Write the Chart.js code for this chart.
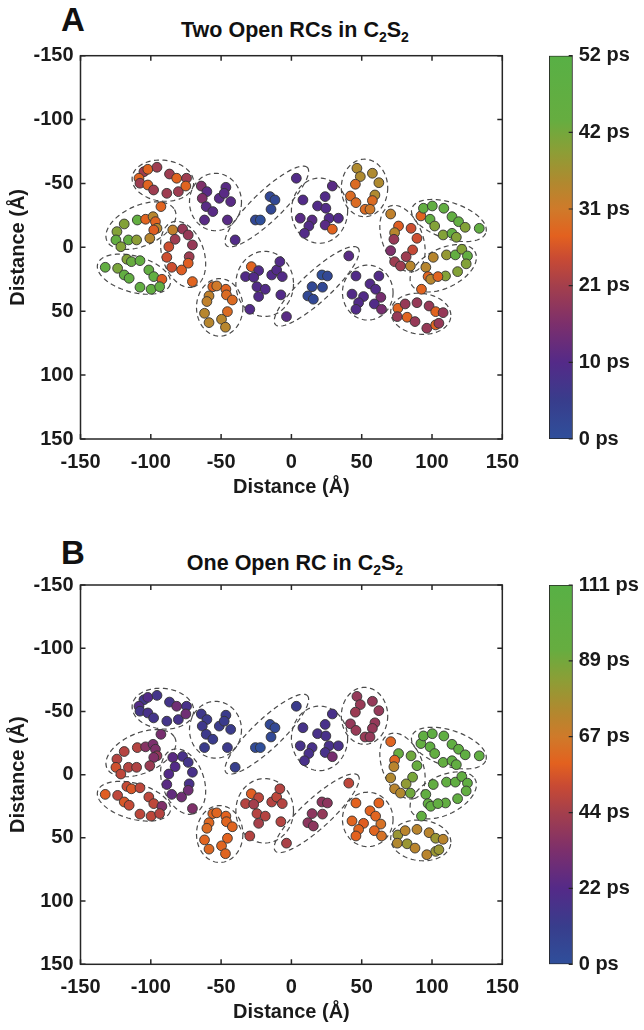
<!DOCTYPE html>
<html>
<head>
<meta charset="utf-8">
<title>Excitation transfer in C2S2</title>
<script src="https://cdn.jsdelivr.net/npm/chart.js@4.4.1/dist/chart.umd.min.js"></script>
<style>
  body { margin: 0; background: #fff; font-family: "Liberation Sans", Arial, sans-serif; }
  #fig { position: relative; width: 644px; height: 1030px; overflow: hidden; }
  #fig canvas { position: absolute; }
  .letter { position: absolute; left: 61px; font-weight: bold; font-size: 33px; line-height: 33px; color: #111; }
  .title { position: absolute; left: 80px; width: 430px; text-align: center; font-weight: bold;
           font-size: 21.5px; line-height: 20px; color: #111; }
  .title sub { font-size: 14px; line-height: 0; vertical-align: -5px; }
</style>
</head>
<body>
<div id="fig">
  <div class="letter" style="top:3px">A</div>
  <div class="title" style="top:20px">Two Open RCs in C<sub>2</sub>S<sub>2</sub></div>
  <canvas id="plotA" style="left:0;top:0" width="530" height="500"></canvas>
  <canvas id="barA" style="left:530px;top:0" width="114" height="500"></canvas>

  <div class="letter" style="top:536px">B</div>
  <div class="title" style="top:553px">One Open RC in C<sub>2</sub>S<sub>2</sub></div>
  <canvas id="plotB" style="left:0;top:527px" width="530" height="500"></canvas>
  <canvas id="barB" style="left:530px;top:527px" width="114" height="500"></canvas>
</div>
<script>
// pigment positions (Å), same for both panels, grouped by complex
const distX = [
  // top-left
  -104.9, -102.1, -95.6, -86.7, -81.6, -74.6, -108.4, -107.7, -102.1, -98.0, -88.6, -80.4, -75.1,
  -64.1, -60.1, -63.4, -60.6, -55.9, -61.8, -51.3, -46.6, -47.8, -43.2, -45.5,
  -15.2, -11.7, -14.5, -25.6, -22.1, -40.0, 3.5,
  -92.8, -109.6, -103.7, -98.4, -96.7, -95.6, -97.9, -118.9, -124.1, -124.8, -121.3, -115.9, -110.1, -100.7,
  -84.4, -77.4, -73.4, -82.7, -70.4, -87.2, -72.7, -88.6, -85.1, -78.1, -73.4, -70.4,
  -132.4, -123.6, -117.0, -113.8, -107.7, -118.9, -115.4, -101.4, -97.9, -92.1, -107.7, -99.8, -93.7,
  -55.9, -53.1, -46.6, -58.6, -46.2, -42.0, -60.1, -61.8, -45.5, -58.6, -49.7, -46.9,
  -28.5, -23.3, -32.6, -26.8, -14.0, -10.5, -8.2, -6.5, -24.5, -23.3, -18.6, -7.5, -29.6,
  // right side
  40.8, 21.7, 25.6, 14.7, 22.1, 11.7, 15.6, -3.5,
  29.1, 24.0, 8.2, 18.6, 24.5, 6.3, 14.7, 12.4, 9.3, 26.8, 33.4, 24.0, 29.1,
  46.6, 49.0, 57.6, 62.2, 45.5, 42.0, 59.4, 45.9, 57.6, 52.4, 55.9,
  45.9, 62.2, 55.9, 59.9, 43.1, 51.3, 63.6, 47.8, 59.0, 45.9, 64.1,
  70.6, 76.2, 73.4, 72.9, 85.1, 89.3, 70.6, 86.2, 81.6, 73.4, 77.6, 84.6,
  92.1, 93.9, 100.2, 108.4, 98.6, 101.9, 114.2, 118.9, 123.6, 107.9, 114.2, 117.3, 133.6,
  100.9, 110.3, 116.6, 121.2, 125.2, 124.3, 95.6, 109.6, 118.2, 97.2, 99.1, 104.2, 92.5,
  75.7, 80.9, 89.3, 97.9, 102.6, 107.9, 75.3, 82.3, 87.9, 96.3, 102.6, 104.9
];
const distY = [
  -59.2, -61.1, -62.7, -57.4, -54.1, -54.1, -54.1, -50.2, -48.8, -44.9, -42.3, -43.6, -48.0,
  -48.0, -43.6, -38.4, -31.9, -28.0, -21.4, -38.4, -47.0, -42.3, -35.8, -21.4,
  -39.7, -37.1, -29.8, -21.4, -21.4, -5.8, -54.1,
  -31.9, -21.4, -22.0, -24.0, -20.1, -14.9, -13.6, -18.3, -12.3, -5.8, -0.5, -5.8, -5.8, -7.1,
  -13.6, -14.4, -9.7, -6.3, -1.9, -0.5, 7.3, 7.8, 15.6, 17.7, 12.4, 26.8,
  15.6, 16.4, 9.3, 11.2, 10.4, 21.6, 24.2, 17.7, 22.9, 25.0, 31.2, 32.8, 30.8,
  30.8, 30.2, 32.8, 38.0, 37.2, 41.2, 42.4, 51.6, 50.3, 58.9, 56.3, 62.5,
  15.1, 18.2, 22.9, 23.4, 21.6, 17.7, 11.2, 22.9, 30.8, 38.5, 32.8, 37.2, 48.5,
  6.7, 21.6, 22.4, 30.8, 31.2, 38.0, 40.6, 54.2,
  -48.0, -39.7, -37.1, -32.4, -30.6, -22.8, -21.4, -16.7, -11.0, -22.8, -22.8, -17.5, -14.2,
  -61.9, -55.4, -58.0, -50.6, -49.4, -40.2, -41.0, -35.0, -36.6, -29.8, -29.8,
  22.4, 22.4, 28.6, 32.8, 36.6, 38.5, 39.1, 43.3, 44.3, 48.5, 48.5,
  -26.1, -16.7, -11.5, -6.3, -14.9, -7.1, 2.6, 2.0, 7.3, 11.2, 14.6, 14.6,
  -24.6, -30.6, -32.4, -30.6, -22.0, -16.7, -24.0, -20.1, -15.7, -9.7, -11.0, -7.9, -14.9,
  7.8, 5.9, 5.9, 1.5, 6.7, 12.9, 15.6, 22.4, 19.0, 22.9, 25.0, 22.9, 32.8,
  47.7, 44.3, 43.3, 45.9, 50.3, 51.1, 54.2, 54.7, 58.1, 63.3, 60.7, 59.4
];

// arrival time of the excitation (ps)
const timeA = [
  20, 28, 20, 20, 28, 20, 28, 20, 28, 20, 20, 20, 28,
  16, 11, 16, 11, 11, 11, 11, 11, 11, 11, 11,
  2, 2, 2, 2, 0, 10, 10,
  28, 45, 28, 34, 28, 34, 27, 40, 40, 45, 40, 45, 39, 34,
  33, 19, 19, 20, 19, 25, 20, 25, 25, 27, 27, 28,
  46, 41, 40, 43, 46, 46, 46, 46, 46, 27, 46, 46, 46,
  28, 31, 28, 33, 29, 29, 33, 34, 29, 34, 34, 34,
  28, 10, 10, 10, 10, 10, 10, 10, 10, 10, 10, 10, 10,
  11, 0, 2, 2, 2, 2, 2, 11,
  11, 10, 10, 10, 10, 11, 11, 10, 10, 10, 10, 11, 28,
  35, 35, 35, 35, 29, 29, 35, 29, 29, 29, 31,
  10, 10, 10, 10, 10, 10, 15, 10, 10, 10, 15,
  33, 27, 34, 19, 25, 25, 16, 24, 20, 20, 20, 34,
  28, 46, 46, 46, 46, 40, 46, 46, 40, 40, 46, 40, 46,
  34, 38, 46, 40, 46, 40, 34, 40, 40, 28, 34, 28, 28,
  28, 19, 19, 19, 28, 19, 19, 28, 19, 19, 28, 19
];
const timeB = [
  16, 22, 16, 16, 30, 18, 22, 16, 18, 16, 16, 17, 30,
  14, 13, 14, 13, 12, 12, 12, 12, 12, 12, 13,
  4, 4, 4, 3, 0, 10, 12,
  32, 48, 36, 33, 34, 40, 35, 48, 48, 54, 50, 48, 47, 42,
  24, 18, 16, 22, 18, 22, 18, 24, 26, 30, 30, 34,
  58, 50, 52, 56, 50, 56, 52, 50, 50, 34, 50, 50, 48,
  60, 60, 59, 61, 60, 60, 62, 60, 59, 61, 60, 60,
  58, 50, 48, 44, 48, 50, 48, 48, 48, 45, 48, 48, 48,
  50, 38, 38, 38, 40, 38, 38, 46,
  18, 18, 17, 18, 18, 17, 18, 18, 18, 18, 18, 18, 32,
  40, 41, 40, 40, 42, 40, 40, 41, 40, 41, 40,
  59, 59, 59, 60, 60, 58, 64, 60, 60, 59, 64,
  60, 92, 60, 72, 90, 92, 74, 88, 82, 72, 74, 90,
  96, 100, 100, 100, 100, 96, 100, 100, 100, 96, 100, 98, 100,
  98, 98, 100, 98, 100, 98, 98, 98, 98, 98, 98, 98, 98,
  80, 72, 72, 72, 80, 72, 74, 80, 72, 72, 80, 80
];

// complex outlines: centre x, centre y, half length, half width, angle (deg)
const complexes = [
  [-91.4, -52.2, 22, 16, 8],
  [-107, -17, 27, 15.5, -28],
  [-112, 21, 27, 14, 18],
  [-77, 5.5, 26.5, 15, 75],
  [-54, -35.5, 18.5, 22.5, 0],
  [-17.5, -32, 42, 11, -47],
  [-51, 47, 16.5, 22.5, 0],
  [-19, 28.6, 20.5, 25.5, 0],
  [18, 30.5, 42, 11, -46],
  [20, -28.7, 20, 25.5, 0],
  [52, -46.5, 16.5, 22.5, 0],
  [54.3, 35.4, 18, 21.5, 0],
  [79, -6.8, 27, 14.5, 72],
  [112, -21, 28, 14, 21],
  [108, 16.4, 26, 15, -31],
  [92, 52, 21.5, 16, 8]
];

const axisTicks = [-150, -100, -50, 0, 50, 100, 150];
const tMaxA = 52;
const tMaxB = 111;
const barTicksA = [0, 10.4, 20.8, 31.2, 41.6, 52];
const barTicksB = [0, 22.2, 44.4, 66.6, 88.8, 111];

// colour map, blue -> purple -> red -> orange -> green
const cmap = [
  [0.0, "#2f4f9b"],
  [0.1, "#383d8c"],
  [0.2, "#542a88"],
  [0.3, "#7c2f6c"],
  [0.4, "#a43f4c"],
  [0.47, "#c84a34"],
  [0.53, "#e3611f"],
  [0.6, "#cf7a2a"],
  [0.67, "#b0892f"],
  [0.75, "#8c9e36"],
  [0.83, "#66ad40"],
  [1.0, "#58b045"]
];

function hexRgb(h) {
  return [1, 3, 5].map((i) => parseInt(h.slice(i, i + 2), 16));
}

function colorAt(f) {
  f = Math.max(0, Math.min(1, f));
  for (let i = 1; i < cmap.length; i++) {
    if (f <= cmap[i][0]) {
      const [f0, c0] = cmap[i - 1];
      const [f1, c1] = cmap[i];
      const t = (f - f0) / (f1 - f0);
      const a = hexRgb(c0);
      const b = hexRgb(c1);
      const rgb = a.map((v, k) => Math.round(v + (b[k] - v) * t));
      return `rgb(${rgb.join(",")})`;
    }
  }
  return cmap[cmap.length - 1][1];
}

const font = { family: '"Liberation Sans", Arial, sans-serif', size: 20, weight: "bold" };
const ink = "#1a1a1a";

// dashed outlines + box frame + inward ticks (MATLAB style)
const framePlugin = {
  id: "frame",
  beforeDatasetsDraw(chart) {
    const c = chart.ctx;
    const xs = chart.scales.x;
    const ys = chart.scales.y;
    c.save();
    c.strokeStyle = "#4a4a4a";
    c.lineWidth = 1.2;
    c.setLineDash([5, 3.5]);
    complexes.forEach(([cx, cy, a, b, ang]) => {
      const r = (ang * Math.PI) / 180;
      c.beginPath();
      for (let k = 0; k <= 96; k++) {
        const t = (k / 96) * Math.PI * 2;
        const dx = a * Math.cos(t);
        const dy = b * Math.sin(t);
        const px = xs.getPixelForValue(cx + dx * Math.cos(r) - dy * Math.sin(r));
        const py = ys.getPixelForValue(cy + dx * Math.sin(r) + dy * Math.cos(r));
        if (k === 0) c.moveTo(px, py);
        else c.lineTo(px, py);
      }
      c.closePath();
      c.stroke();
    });
    c.restore();
  },
  afterDraw(chart) {
    const c = chart.ctx;
    const { left, right, top, bottom } = chart.chartArea;
    c.save();
    c.strokeStyle = "#262626";
    c.lineWidth = 1.5;
    c.setLineDash([]);
    c.strokeRect(left, top, right - left, bottom - top);
    c.beginPath();
    axisTicks.forEach((v) => {
      const px = chart.scales.x.getPixelForValue(v);
      c.moveTo(px, bottom);
      c.lineTo(px, bottom - 5);
      c.moveTo(px, top);
      c.lineTo(px, top + 5);
      const py = chart.scales.y.getPixelForValue(v);
      c.moveTo(left, py);
      c.lineTo(left + 5, py);
      c.moveTo(right, py);
      c.lineTo(right - 5, py);
    });
    c.stroke();
    c.restore();
  }
};

const barTickPlugin = {
  id: "barTicks",
  afterDraw(chart) {
    const c = chart.ctx;
    const { right } = chart.chartArea;
    c.save();
    c.strokeStyle = "#262626";
    c.lineWidth = 1.2;
    c.beginPath();
    chart.scales.y.ticks.forEach((t) => {
      const py = chart.scales.y.getPixelForValue(t.value);
      c.moveTo(right, py);
      c.lineTo(right - 4, py);
    });
    c.stroke();
    c.restore();
  }
};

const panels = [
  { plot: "plotA", bar: "barA", times: timeA, tMax: tMaxA, ticks: barTicksA, top: 55.7, bottom: 439 },
  { plot: "plotB", bar: "barB", times: timeB, tMax: tMaxB, ticks: barTicksB, top: 58, bottom: 437.3 }
];

panels.forEach((p) => {
  new Chart(document.getElementById(p.plot), {
    type: "scatter",
    data: {
      datasets: [
        {
          data: distX.map((x, i) => ({ x: x, y: distY[i] })),
          pointRadius: 4.9,
          pointHoverRadius: 4.9,
          pointBorderWidth: 0.9,
          pointBorderColor: "#333",
          pointBackgroundColor: (ctx) => colorAt(p.times[ctx.dataIndex] / p.tMax)
        }
      ]
    },
    options: {
      responsive: false,
      animation: false,
      events: [],
      layout: { padding: { top: p.top, right: 20.5, left: 0, bottom: 500 - p.bottom - 60 } },
      plugins: { legend: { display: false }, tooltip: { enabled: false } },
      scales: {
        x: {
          type: "linear",
          min: -150,
          max: 150,
          afterBuildTicks: (s) => { s.ticks = axisTicks.map((v) => ({ value: v })); },
          afterFit: (s) => { s.height = 60; },
          grid: { display: false, drawTicks: false },
          border: { display: false },
          ticks: { font: font, color: ink, padding: 11, maxRotation: 0, autoSkip: false },
          title: { display: true, text: "Distance (Å)", font: font, color: ink, padding: { top: 0, bottom: 0 } }
        },
        y: {
          type: "linear",
          min: -150,
          max: 150,
          reverse: true,
          afterBuildTicks: (s) => { s.ticks = axisTicks.map((v) => ({ value: v })); },
          afterFit: (s) => { s.width = 80.5; },
          grid: { display: false, drawTicks: false },
          border: { display: false },
          ticks: { font: font, color: ink, padding: 7, autoSkip: false },
          title: { display: true, text: "Distance (Å)", font: font, color: ink, padding: { top: 6, bottom: 0 } }
        }
      }
    },
    plugins: [framePlugin]
  });

  new Chart(document.getElementById(p.bar), {
    type: "bar",
    data: {
      labels: [""],
      datasets: [
        {
          data: [p.tMax],
          barPercentage: 1,
          categoryPercentage: 1,
          borderColor: "#262626",
          borderWidth: 1.2,
          borderSkipped: false,
          backgroundColor: (ctx) => {
            const area = ctx.chart.chartArea;
            if (!area) return "#888";
            const g = ctx.chart.ctx.createLinearGradient(0, area.bottom, 0, area.top);
            cmap.forEach(([f, col]) => g.addColorStop(f, col));
            return g;
          }
        }
      ]
    },
    options: {
      responsive: false,
      animation: false,
      events: [],
      layout: { padding: { top: p.top, left: 19, right: 0, bottom: 500 - p.bottom } },
      plugins: { legend: { display: false }, tooltip: { enabled: false } },
      scales: {
        x: { display: false },
        y: {
          position: "right",
          min: 0,
          max: p.tMax,
          afterBuildTicks: (s) => { s.ticks = p.ticks.map((v) => ({ value: v })); },
          afterFit: (s) => { s.width = 71.3; },
          grid: { display: false, drawTicks: false },
          border: { display: false },
          ticks: {
            font: font,
            color: ink,
            padding: 6,
            autoSkip: false,
            callback: (v) => `${Math.round(v)} ps`
          }
        }
      }
    },
    plugins: [barTickPlugin]
  });
});
</script>
</body>
</html>
